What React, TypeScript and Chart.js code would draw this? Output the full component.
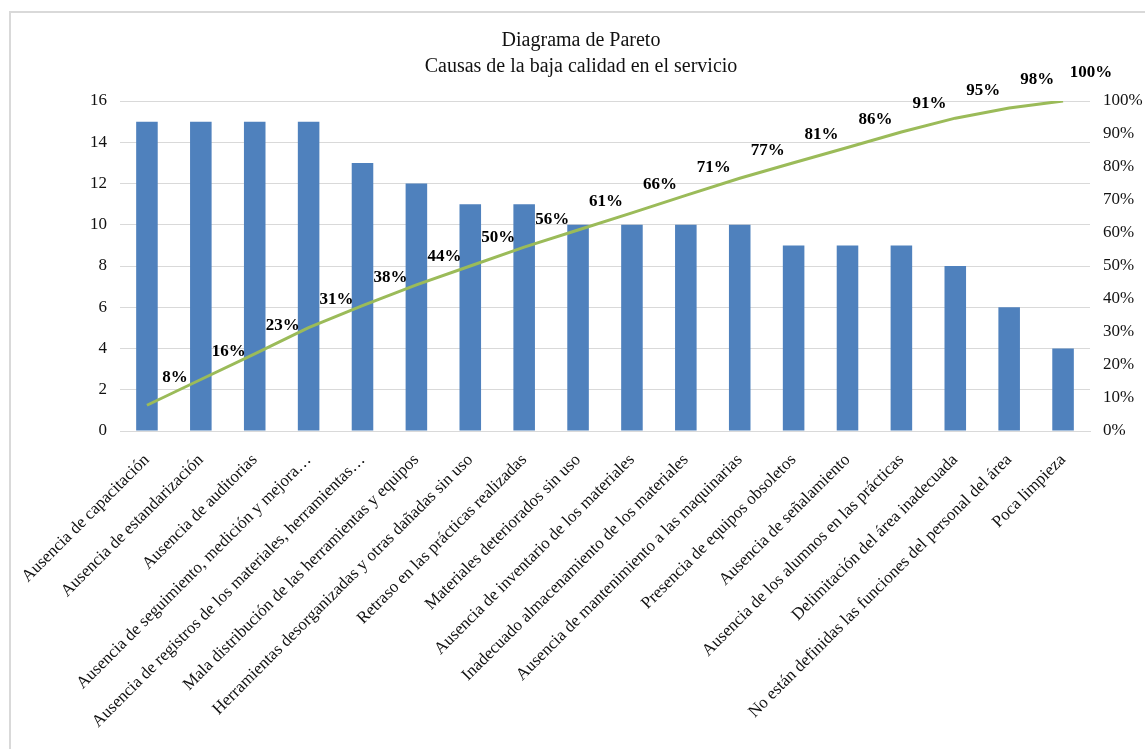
import React, { useEffect, useRef } from "react";
import { Chart, registerables } from "chart.js";

Chart.register(...registerables);

const categories = [
  "Ausencia de capacitación",
  "Ausencia de estandarización",
  "Ausencia de auditorias",
  "Ausencia de seguimiento, medición y mejora…",
  "Ausencia de registros de los materiales, herramientas…",
  "Mala distribución de las herramientas y equipos",
  "Herramientas desorganizadas y otras dañadas sin uso",
  "Retraso en las prácticas realizadas",
  "Materiales deteriorados sin uso",
  "Ausencia de inventario de los materiales",
  "Inadecuado almacenamiento de los materiales",
  "Ausencia de mantenimiento a las maquinarias",
  "Presencia de equipos obsoletos",
  "Ausencia de señalamiento",
  "Ausencia de los alumnos en las prácticas",
  "Delimitación del área inadecuada",
  "No están definidas las funciones del personal del área",
  "Poca limpieza",
];

const frequencies = [15, 15, 15, 15, 13, 12, 11, 11, 10, 10, 10, 10, 9, 9, 9, 8, 6, 4];

const cumulativePct = [7.8, 15.6, 23.4, 31.3, 38.0, 44.3, 50.0, 55.7, 60.9, 66.1, 71.4, 76.6, 81.3, 85.9, 90.6, 94.8, 97.9, 100];

const pctLabels = ["8%", "16%", "23%", "31%", "38%", "44%", "50%", "56%", "61%", "66%", "71%", "77%", "81%", "86%", "91%", "95%", "98%", "100%"];

const titleLines = ["Diagrama de Pareto", "Causas de la baja calidad en el servicio"];

const SERIF = "'Liberation Serif', 'Times New Roman', serif";

const decorPlugin = {
  id: "decor",
  beforeDraw(chart: any) {
    const ctx = chart.ctx;
    ctx.save();
    ctx.fillStyle = "#ffffff";
    ctx.fillRect(0, 0, chart.width, chart.height);
    ctx.strokeStyle = "#d9d9d9";
    ctx.lineWidth = 2;
    ctx.strokeRect(10, 12, chart.width + 20, chart.height + 20);
    ctx.restore();
  },
  afterDraw(chart: any) {
    const ctx = chart.ctx;
    ctx.save();
    ctx.fillStyle = "#111";
    ctx.font = `20px ${SERIF}`;
    ctx.textAlign = "center";
    ctx.textBaseline = "middle";
    ctx.fillText(titleLines[0], 581, 41);
    ctx.fillText(titleLines[1], 581, 67);
    ctx.restore();
  },
  afterDatasetsDraw(chart: any) {
    const ctx = chart.ctx;
    const meta = chart.getDatasetMeta(1);
    ctx.save();
    ctx.fillStyle = "#000";
    ctx.font = `bold 17px ${SERIF}`;
    ctx.textAlign = "center";
    ctx.textBaseline = "middle";
    meta.data.forEach((pt: any, i: number) => {
      ctx.fillText(pctLabels[i], pt.x + 28, pt.y - 28);
    });
    ctx.restore();
  },
};

export default function App() {
  const ref = useRef<HTMLCanvasElement | null>(null);

  useEffect(() => {
    if (!ref.current) return;
    const chart = new Chart(ref.current, {
      type: "bar",
      data: {
        labels: categories,
        datasets: [
          {
            type: "bar",
            label: "Frecuencia",
            data: frequencies,
            backgroundColor: "#4F81BD",
            borderWidth: 0,
            barPercentage: 0.4,
            categoryPercentage: 1,
            yAxisID: "y",
            order: 2,
          },
          {
            type: "line",
            label: "Acumulado",
            data: cumulativePct,
            borderColor: "#9BBB59",
            backgroundColor: "#9BBB59",
            borderWidth: 3,
            pointRadius: 0,
            tension: 0,
            yAxisID: "y1",
            order: 1,
          },
        ],
      },
      options: {
        responsive: false,
        animation: false,
        layout: { padding: { top: 101, left: 0, right: 0, bottom: 0 } },
        plugins: {
          legend: { display: false },
          title: { display: false },
          tooltip: { enabled: false },
        },
        scales: {
          x: {
            grid: { display: false, drawTicks: false },
            border: { display: true, color: "#d9d9d9" },
            ticks: {
              autoSkip: false,
              maxRotation: 45,
              minRotation: 45,
              padding: 19,
              color: "#111",
              font: { family: SERIF, size: 17 },
            },
            afterFit: (s: any) => {
              s.height = 318;
            },
          },
          y: {
            position: "left",
            min: 0,
            max: 16,
            ticks: {
              stepSize: 2,
              padding: 13,
              color: "#111",
              font: { family: SERIF, size: 17 },
            },
            grid: { color: "#d9d9d9", drawTicks: false },
            border: { display: false },
            afterFit: (s: any) => {
              s.width = 120;
            },
          },
          y1: {
            position: "right",
            min: 0,
            max: 100,
            ticks: {
              stepSize: 10,
              padding: 13,
              color: "#111",
              font: { family: SERIF, size: 17 },
              callback: (v: any) => v + "%",
            },
            grid: { display: false, drawTicks: false },
            border: { display: false },
            afterFit: (s: any) => {
              s.width = 55;
            },
          },
        },
      },
      plugins: [decorPlugin],
    });
    return () => chart.destroy();
  }, []);

  return (
    <div style={{ position: "absolute", left: 0, top: 0, width: 1145, height: 749, overflow: "hidden" }}>
      <canvas ref={ref} width={1145} height={749} style={{ display: "block" }} />
    </div>
  );
}
